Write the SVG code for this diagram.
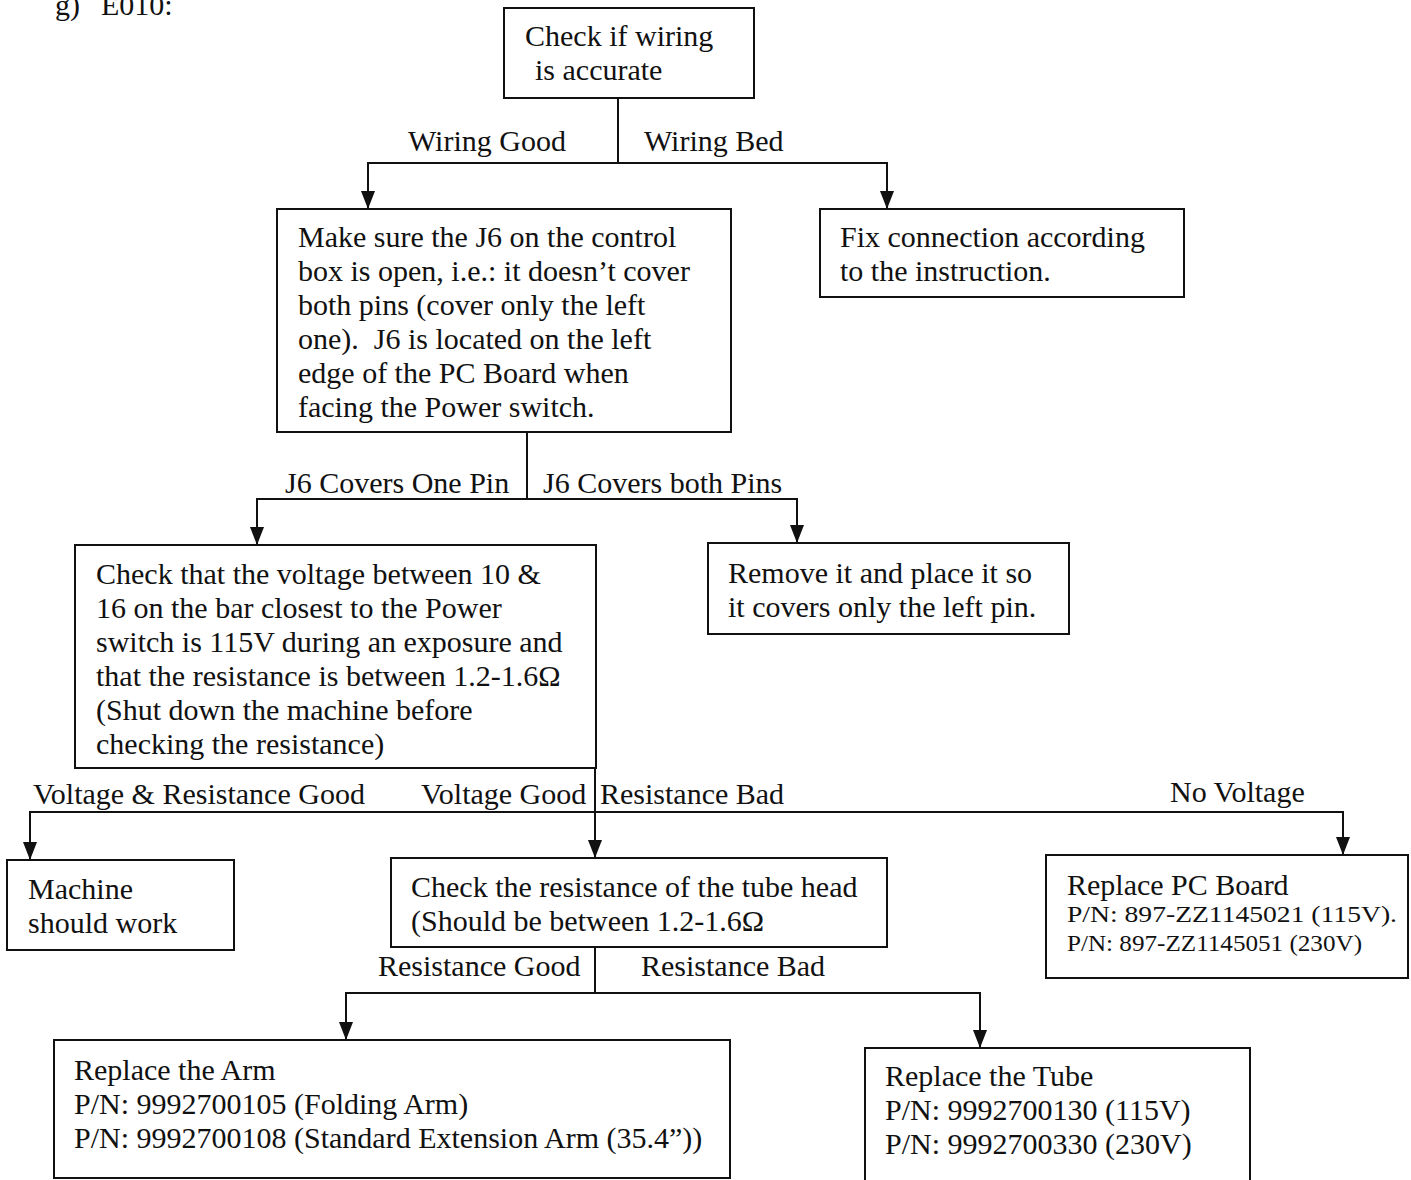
<svg xmlns="http://www.w3.org/2000/svg" width="1411" height="1180" viewBox="0 0 1411 1180">
<style>
text{font-family:"Liberation Serif","Times New Roman",serif;font-size:30px;fill:#111}
.box{fill:#fff;stroke:#111;stroke-width:2}
.ln{fill:none;stroke:#111;stroke-width:2}
.sm{font-size:23px}
</style>
<defs>
<marker id="arr" markerWidth="18" markerHeight="14" refX="18" refY="7" orient="auto" markerUnits="userSpaceOnUse">
<path d="M0,0 L18,7 L0,14 z" fill="#111"/>
</marker>
</defs>
<rect width="1411" height="1180" fill="#fff"/>
<text x="55" y="15">g)</text>
<text x="101" y="15">E010:</text>

<g id="connectors">
<path class="ln" d="M618,98 V163"/>
<path class="ln" d="M618,163 H368 V209" marker-end="url(#arr)"/>
<path class="ln" d="M618,163 H887 V209" marker-end="url(#arr)"/>
<path class="ln" d="M527,432 V499"/>
<path class="ln" d="M527,499 H257 V545" marker-end="url(#arr)"/>
<path class="ln" d="M527,499 H797 V543" marker-end="url(#arr)"/>
<path class="ln" d="M595,768 V858" marker-end="url(#arr)"/>
<path class="ln" d="M595,812 H30 V860" marker-end="url(#arr)"/>
<path class="ln" d="M595,812 H1343 V855" marker-end="url(#arr)"/>
<path class="ln" d="M595,947 V993"/>
<path class="ln" d="M595,993 H346 V1040" marker-end="url(#arr)"/>
<path class="ln" d="M595,993 H980 V1048" marker-end="url(#arr)"/>
<text x="408" y="151">Wiring Good</text>
<text x="644" y="151">Wiring Bed</text>
<text x="285" y="493">J6 Covers One Pin</text>
<text x="543" y="493">J6 Covers both Pins</text>
<text x="33" y="804">Voltage &amp; Resistance Good</text>
<text x="421" y="804">Voltage Good</text>
<text x="600" y="804">Resistance Bad</text>
<text x="1170" y="802">No Voltage</text>
<text x="378" y="976">Resistance Good</text>
<text x="641" y="976">Resistance Bad</text>
</g>

<g id="n1">
<rect class="box" x="504" y="8" width="250" height="90"/>
<text x="525" y="46">Check if wiring</text>
<text x="535" y="80">is accurate</text>
</g>
<g id="n2">
<rect class="box" x="277" y="209" width="454" height="223"/>
<text x="298" y="247">Make sure the J6 on the control</text>
<text x="298" y="281">box is open, i.e.: it doesn’t cover</text>
<text x="298" y="315">both pins (cover only the left</text>
<text x="298" y="349">one).&#160; J6 is located on the left</text>
<text x="298" y="383">edge of the PC Board when</text>
<text x="298" y="417">facing the Power switch.</text>
</g>
<g id="n3">
<rect class="box" x="820" y="209" width="364" height="88"/>
<text x="840" y="247">Fix connection according</text>
<text x="840" y="281">to the instruction.</text>
</g>
<g id="n4">
<rect class="box" x="75" y="545" width="521" height="223"/>
<text x="96" y="584">Check that the voltage between 10 &amp;</text>
<text x="96" y="618">16 on the bar closest to the Power</text>
<text x="96" y="652">switch is 115V during an exposure and</text>
<text x="96" y="686">that the resistance is between 1.2-1.6Ω</text>
<text x="96" y="720">(Shut down the machine before</text>
<text x="96" y="754">checking the resistance)</text>
</g>
<g id="n5">
<rect class="box" x="708" y="543" width="361" height="91"/>
<text x="728" y="583">Remove it and place it so</text>
<text x="728" y="617">it covers only the left pin.</text>
</g>
<g id="n6">
<rect class="box" x="7" y="860" width="227" height="90"/>
<text x="28" y="899">Machine</text>
<text x="28" y="933">should work</text>
</g>
<g id="n7">
<rect class="box" x="391" y="858" width="496" height="89"/>
<text x="411" y="897">Check the resistance of the tube head</text>
<text x="411" y="931">(Should be between 1.2-1.6Ω</text>
</g>
<g id="n8">
<rect class="box" x="1046" y="855" width="362" height="123"/>
<text x="1067" y="895">Replace PC Board</text>
<text class="sm" x="1067" y="922" textLength="330" lengthAdjust="spacingAndGlyphs">P/N: 897-ZZ1145021 (115V).</text>
<text class="sm" x="1067" y="951" textLength="295" lengthAdjust="spacingAndGlyphs">P/N: 897-ZZ1145051 (230V)</text>
</g>
<g id="n9">
<rect class="box" x="54" y="1040" width="676" height="138"/>
<text x="74" y="1080">Replace the Arm</text>
<text x="74" y="1114">P/N: 9992700105 (Folding Arm)</text>
<text x="74" y="1148">P/N: 9992700108 (Standard Extension Arm (35.4”))</text>
</g>
<g id="n10">
<rect class="box" x="865" y="1048" width="385" height="140"/>
<text x="885" y="1086">Replace the Tube</text>
<text x="885" y="1120">P/N: 9992700130 (115V)</text>
<text x="885" y="1154">P/N: 9992700330 (230V)</text>
</g>
</svg>
